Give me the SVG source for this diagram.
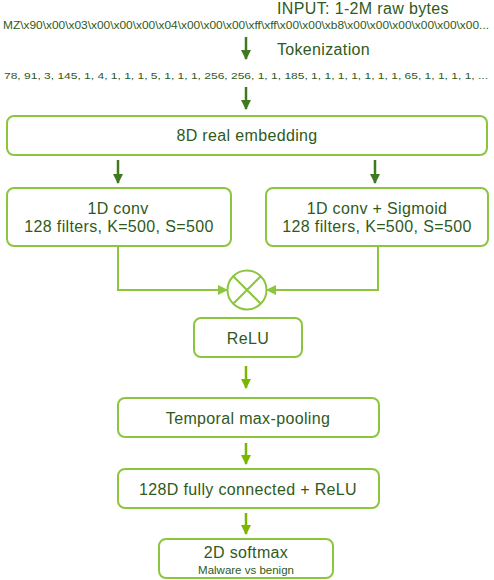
<svg xmlns="http://www.w3.org/2000/svg" width="494" height="580" viewBox="0 0 494 580">
<defs>
<style>
.t{font-family:"Liberation Sans",Arial,sans-serif;fill:#2f5a1c;text-anchor:middle}
.m{font-size:16px;letter-spacing:0.35px}
.box{fill:#fff;stroke:#8cc63f;stroke-width:2}
.da{stroke:#3f7a1e;stroke-width:2.5;fill:none}
.la{stroke:#7ab800;stroke-width:2.5;fill:none}
.cl{stroke:#8cc63f;stroke-width:2;fill:none}
</style>
<marker id="ad" viewBox="0 0 10 10" refX="9" refY="5" markerWidth="4" markerHeight="4" orient="auto" markerUnits="strokeWidth"><path d="M0,0L10,5L0,10z" fill="#3f7a1e"/></marker>
<marker id="al" viewBox="0 0 10 10" refX="9" refY="5" markerWidth="4" markerHeight="4" orient="auto" markerUnits="strokeWidth"><path d="M0,0L10,5L0,10z" fill="#7ab800"/></marker>
<marker id="ac" viewBox="0 0 10 10" refX="9" refY="5" markerWidth="5" markerHeight="5" orient="auto" markerUnits="strokeWidth"><path d="M0,0L10,5L0,10z" fill="#8cc63f"/></marker>
</defs>
<rect width="494" height="580" fill="#fff"/>
<g id="input">
<text class="t m" x="363" y="14">INPUT: 1-2M raw bytes</text>
<text class="t" x="246" y="29" font-size="10.5" textLength="486" lengthAdjust="spacingAndGlyphs">MZ\x90\x00\x03\x00\x00\x00\x04\x00\x00\x00\xff\xff\x00\x00\xb8\x00\x00\x00\x00\x00\x00...</text>
</g>
<g id="tokenization">
<text class="t m" x="323.5" y="55">Tokenization</text>
<text class="t" x="246" y="79" font-size="9.5" textLength="484" lengthAdjust="spacingAndGlyphs">78, 91, 3, 145, 1, 4, 1, 1, 1, 5, 1, 1, 1, 256, 256, 1, 1, 185, 1, 1, 1, 1, 1, 1, 1, 65, 1, 1, 1, 1, ...</text>
</g>
<g id="embedding">
<rect class="box" x="7" y="116" width="480" height="39" rx="7"/>
<text class="t m" x="247" y="141">8D real embedding</text>
</g>
<g id="conv">
<rect class="box" x="7" y="188" width="224" height="58" rx="7"/>
<text class="t m" x="118" y="214">1D conv</text>
<text class="t m" x="119" y="232">128 filters, K=500, S=500</text>
</g>
<g id="convsig">
<rect class="box" x="266" y="188" width="222" height="58" rx="7"/>
<text class="t m" x="377" y="214">1D conv + Sigmoid</text>
<text class="t m" x="377" y="232">128 filters, K=500, S=500</text>
</g>
<g id="multiply">
<circle cx="247" cy="290" r="19.5" fill="#fff" stroke="#8cc63f" stroke-width="2"/>
<path d="M233.2,276.2L260.8,303.8M260.8,276.2L233.2,303.8" stroke="#8cc63f" stroke-width="2"/>
</g>
<g id="relu">
<rect class="box" x="194" y="318" width="108" height="39" rx="7"/>
<text class="t m" x="248" y="344">ReLU</text>
</g>
<g id="pool">
<rect class="box" x="118" y="398" width="261" height="39" rx="7"/>
<text class="t m" x="248" y="424">Temporal max-pooling</text>
</g>
<g id="fc">
<rect class="box" x="118" y="469" width="261" height="39" rx="7"/>
<text class="t m" x="248" y="495">128D fully connected + ReLU</text>
</g>
<g id="softmax">
<rect class="box" x="159" y="539" width="174" height="39" rx="7"/>
<text class="t m" x="246" y="558">2D softmax</text>
<text class="t" x="246" y="574" font-size="11.5">Malware vs benign</text>
</g>
<g id="connectors">
<line class="da" x1="246" y1="37" x2="246" y2="59" marker-end="url(#ad)"/>
<line class="da" x1="246" y1="87" x2="246" y2="109" marker-end="url(#ad)"/>
<line class="da" x1="118" y1="160" x2="118" y2="183" marker-end="url(#ad)"/>
<line class="da" x1="375" y1="160" x2="375" y2="183" marker-end="url(#ad)"/>
<path class="cl" d="M118,246V290H227" marker-end="url(#ac)"/>
<path class="cl" d="M378,246V290H267" marker-end="url(#ac)"/>
<line class="la" x1="246" y1="366" x2="246" y2="388" marker-end="url(#al)"/>
<line class="la" x1="246" y1="443" x2="246" y2="464" marker-end="url(#al)"/>
<line class="la" x1="246" y1="513" x2="246" y2="534" marker-end="url(#al)"/>
</g>
</svg>
